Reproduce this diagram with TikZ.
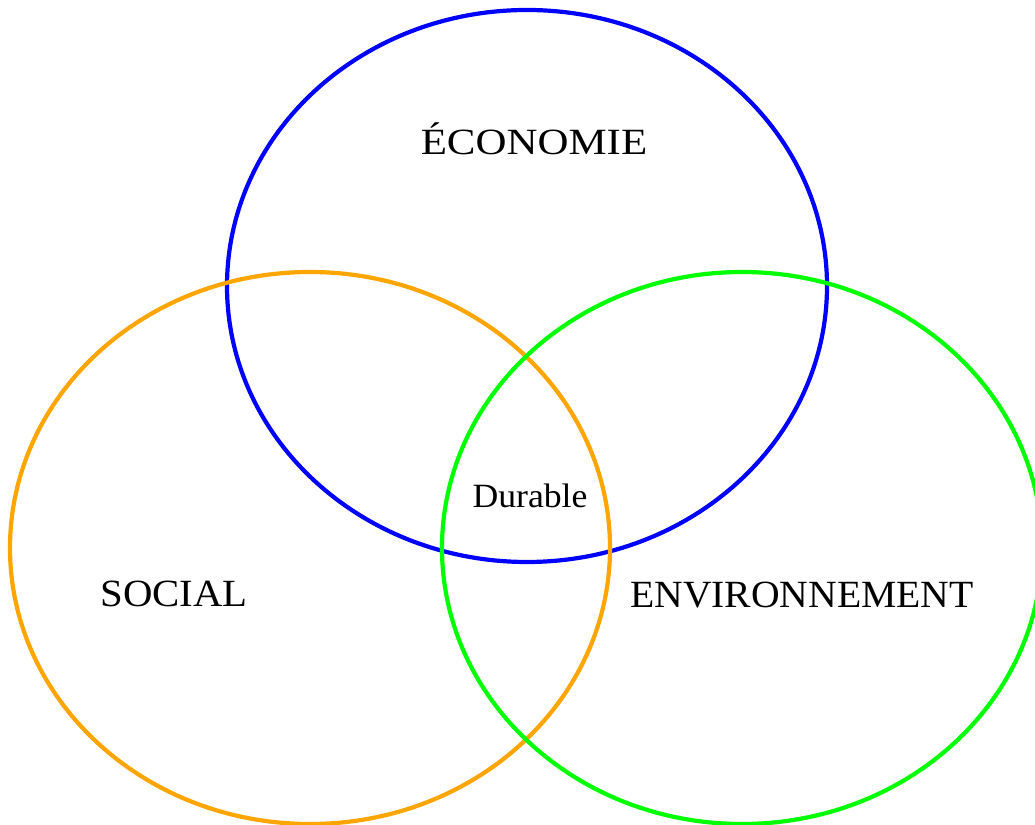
\documentclass[tikz,border=0pt]{standalone}
\usepackage{fontspec}
\setmainfont{Liberation Serif}
\usepackage{xcolor}
\definecolor{ecoblue}{RGB}{0,0,255}
\definecolor{socorange}{RGB}{255,165,0}
\definecolor{envgreen}{RGB}{0,255,0}

\begin{document}
\begin{tikzpicture}[x=1pt, y=1pt,
    ring/.style={line width=4.2pt},
    lbl/.style={anchor=base, inner sep=0pt}
  ]
  \clip (0,0) rectangle (1035,824);
  \useasboundingbox (0,0) rectangle (1035,824);

  % ===== Three circles =====
  \draw[ring, draw=ecoblue] (527,538) ellipse [x radius=300, y radius=276];
  \draw[ring, draw=socorange] (310,276) ellipse [x radius=300, y radius=276];
  \draw[ring, draw=envgreen] (742,276) ellipse [x radius=300, y radius=276];

  % ===== Labels =====
  \node[lbl, xscale=1.16, font=\fontsize{37}{40}\selectfont] (eco) at (534,669) {ÉCONOMIE};
  \node[lbl, xscale=1.06, font=\fontsize{38.5}{42}\selectfont] (soc) at (174,217) {SOCIAL};
  \node[lbl, xscale=1.03, font=\fontsize{38.5}{42}\selectfont] (env) at (802,216) {ENVIRONNEMENT};
  \node[lbl, xscale=1.05, font=\fontsize{34}{37}\selectfont] (dur) at (530,316) {Durable};

\end{tikzpicture}
\end{document}
